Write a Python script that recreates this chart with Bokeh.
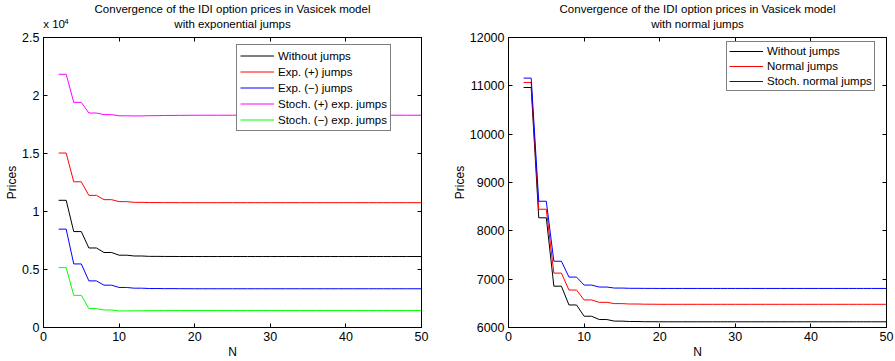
from bokeh.plotting import figure
from bokeh.models import Range1d, FixedTicker, LinearAxis, Legend, LegendItem, Title
from bokeh.layouts import row
from bokeh.embed import file_html
from bokeh.resources import INLINE

FONT = "Liberation Sans"

# ---------------- data ----------------
N = [2, 3, 4, 5, 6, 7, 8, 9, 10, 11, 12, 13, 14, 15, 16, 17, 18, 19,
     20, 21, 22, 23, 24, 25, 26, 27, 28, 29, 30, 31, 32, 33, 34, 35,
     36, 37, 38, 39, 40, 41, 42, 43, 44, 45, 46, 47, 48, 49, 50]

without_jumps = [10965, 10965, 8270, 8270, 6855, 6855, 6466, 6466, 6233, 6233,
                 6165, 6165, 6132, 6132, 6124, 6124, 6120, 6120,
                 6118, 6118, 6118, 6118, 6118, 6118, 6118, 6118, 6118, 6118,
                 6118, 6118, 6118, 6118, 6118, 6118, 6118, 6118, 6118, 6118,
                 6118, 6118, 6118, 6118, 6118, 6118, 6118, 6118, 6118, 6118, 6118]

exp_pos_jumps = [15040, 15040, 12560, 12560, 11390, 11390, 11020, 11020, 10850, 10850,
                 10790, 10790, 10770, 10770, 10765, 10765, 10762, 10762,
                 10760, 10760, 10760, 10760, 10760, 10760, 10760, 10760, 10760, 10760,
                 10760, 10760, 10760, 10760, 10760, 10760, 10760, 10760, 10760, 10760,
                 10760, 10760, 10760, 10760, 10760, 10760, 10760, 10760, 10760, 10760, 10760]

exp_neg_jumps = [8480, 8480, 5480, 5480, 4020, 4020, 3650, 3650, 3450, 3450,
                 3390, 3390, 3360, 3360, 3350, 3350, 3345, 3345,
                 3340, 3340, 3340, 3340, 3340, 3340, 3340, 3340, 3340, 3340,
                 3340, 3340, 3340, 3340, 3340, 3340, 3340, 3340, 3340, 3340,
                 3340, 3340, 3340, 3340, 3340, 3340, 3340, 3340, 3340, 3340, 3340]

stoch_pos_exp_jumps = [21830, 21830, 19410, 19410, 18490, 18490, 18350, 18350, 18250, 18250,
                       18240, 18240, 18260, 18260, 18280, 18280, 18290, 18290,
                       18300, 18300, 18300, 18300, 18300, 18300, 18300, 18300, 18300, 18300,
                       18300, 18300, 18300, 18300, 18300, 18300, 18300, 18300, 18300, 18300,
                       18300, 18300, 18300, 18300, 18300, 18300, 18300, 18300, 18300, 18300, 18300]

stoch_neg_exp_jumps = [5160, 5160, 2770, 2770, 1630, 1630, 1510, 1510, 1430, 1430,
                       1440, 1440, 1450, 1450, 1455, 1455, 1458, 1458,
                       1460, 1460, 1460, 1460, 1460, 1460, 1460, 1460, 1460, 1460,
                       1460, 1460, 1460, 1460, 1460, 1460, 1460, 1460, 1460, 1460,
                       1460, 1460, 1460, 1460, 1460, 1460, 1460, 1460, 1460, 1460, 1460]

normal_jumps = [11070, 11070, 8447, 8447, 7125, 7125, 6775, 6775, 6570, 6570,
                6521, 6521, 6494, 6494, 6486, 6486, 6482, 6482,
                6480, 6480, 6480, 6480, 6480, 6480, 6480, 6480, 6480, 6480,
                6480, 6480, 6480, 6480, 6480, 6480, 6480, 6480, 6480, 6480,
                6480, 6480, 6480, 6480, 6480, 6480, 6480, 6480, 6480, 6480, 6480]

stoch_normal_jumps = [11160, 11160, 8612, 8612, 7371, 7371, 7043, 7043, 6878, 6878,
                      6837, 6837, 6816, 6816, 6811, 6811, 6809, 6809,
                      6808, 6808, 6808, 6808, 6808, 6808, 6808, 6808, 6808, 6808,
                      6808, 6808, 6808, 6808, 6808, 6808, 6808, 6808, 6808, 6808,
                      6808, 6808, 6808, 6808, 6808, 6808, 6808, 6808, 6808, 6808, 6808]

x_ticks = [0, 10, 20, 30, 40, 50]
left_y_ticks = [0, 5000, 10000, 15000, 20000, 25000]
left_y_labels = ["0", "0.5", "1", "1.5", "2", "2.5"]
left_exponent_base = "x 10"
left_exponent_power = "4"
right_y_ticks = [6000, 7000, 8000, 9000, 10000, 11000, 12000]

title_line1 = "Convergence of the IDI option prices in Vasicek model"
left_title_line2 = "with exponential jumps"
right_title_line2 = "with normal jumps"

left_series = [
    ("Without jumps", without_jumps, "black"),
    ("Exp. (+) jumps", exp_pos_jumps, "#ff0000"),
    ("Exp. (\u2212) jumps", exp_neg_jumps, "#0000ff"),
    ("Stoch. (+) exp. jumps", stoch_pos_exp_jumps, "#ff00ff"),
    ("Stoch. (\u2212) exp. jumps", stoch_neg_exp_jumps, "#00ff00"),
]
right_series = [
    ("Without jumps", without_jumps, "black"),
    ("Normal jumps", normal_jumps, "#ff0000"),
    ("Stoch. normal jumps", stoch_normal_jumps, "#0000ff"),
]


def style_axis(ax, show_labels=True, standoff=5, label_standoff=4):
    ax.major_tick_in = 4
    ax.major_tick_out = 0
    ax.minor_tick_line_color = None
    ax.axis_line_color = "black"
    ax.major_tick_line_color = "black"
    ax.major_label_text_font = FONT
    ax.axis_label_text_font = FONT
    ax.axis_label_text_font_size = "12px"
    ax.axis_label_text_font_style = "normal"
    ax.axis_label_text_color = "black"
    ax.axis_label_standoff = label_standoff
    if show_labels:
        ax.major_label_text_font_size = "12.5px"
        ax.major_label_text_color = "black"
        ax.major_label_standoff = standoff
    else:
        ax.major_label_text_font_size = "1px"
        ax.major_label_text_color = None
        ax.major_label_standoff = 0


def text_row_axis(labels, font_size, standoff):
    """An axis used only to place texts above the frame (no line, no ticks)."""
    ax = LinearAxis(ticker=FixedTicker(ticks=list(labels.keys())),
                    major_label_overrides=labels)
    ax.axis_line_color = None
    ax.major_tick_line_color = None
    ax.minor_tick_line_color = None
    ax.major_tick_in = 0
    ax.major_tick_out = 0
    ax.major_label_standoff = standoff
    ax.major_label_text_font = FONT
    ax.major_label_text_font_size = font_size
    ax.major_label_text_color = "black"
    return ax


def make_fig(width, border_left, border_right, y_range, y_ticks, line2_labels,
             series, legend_loc, legend_h, legend_spacing, legend_pad, y_std,
             sup_labels=None):
    p = figure(width=width, height=361, x_range=Range1d(0, 50), y_range=y_range,
               output_backend="svg", toolbar_location=None, title=None,
               min_border_left=border_left, min_border_right=border_right,
               min_border_top=37, min_border_bottom=32,
               x_axis_label="N", y_axis_label="Prices")
    p.grid.visible = False
    p.outline_line_color = "black"
    p.outline_line_width = 1
    p.background_fill_color = "white"
    p.border_fill_color = "white"

    p.xaxis.ticker = FixedTicker(ticks=x_ticks)
    p.yaxis.ticker = FixedTicker(ticks=y_ticks)
    for ax in p.xaxis:
        style_axis(ax, True, standoff=4, label_standoff=1)
    for ax in p.yaxis:
        style_axis(ax, True, standoff=y_std, label_standoff=0)

    # inward ticks on the top and right edges (no labels)
    top = LinearAxis(ticker=FixedTicker(ticks=x_ticks))
    style_axis(top, False)
    p.add_layout(top, "above")
    right = LinearAxis(ticker=FixedTicker(ticks=y_ticks))
    style_axis(right, False)
    p.add_layout(right, "right")

    # second title line (and exponent base) sharing one text row above the frame
    p.add_layout(text_row_axis(line2_labels, "11.5px", 8), "above")
    if sup_labels:
        # superscript, pulled down next to the exponent base
        p.add_layout(text_row_axis(sup_labels, "8px", -9), "above")

    p.add_layout(Title(text=title_line1, align="center", text_font=FONT,
                       text_font_size="11.5px", text_font_style="normal",
                       text_color="black", standoff=0), "above")

    items = []
    for name, ys, color in series:
        r = p.line(N, ys, line_color=color, line_width=1)
        items.append(LegendItem(label=name, renderers=[r]))
    leg = Legend(items=items, location=legend_loc, margin=0, padding=legend_pad,
                 spacing=legend_spacing, glyph_width=34, glyph_height=legend_h,
                 label_height=legend_h, label_standoff=4,
                 label_text_font=FONT, label_text_font_size="11.5px",
                 label_text_color="black",
                 border_line_color="black", border_line_width=1,
                 background_fill_color="white", background_fill_alpha=1.0)
    p.add_layout(leg, "center")
    return p


left = make_fig(445, 43, 24, Range1d(0, 25000), left_y_ticks,
                {1.4: left_exponent_base, 25: left_title_line2},
                left_series, (193, 196), 15, 1, 3, 4,
                sup_labels={3.05: left_exponent_power})
left.yaxis[0].major_label_overrides = {t: s for t, s in zip(left_y_ticks, left_y_labels)}

right_fig = make_fig(450, 63, 9, Range1d(6000, 12000), right_y_ticks,
                     {25: right_title_line2},
                     right_series, (218, 236), 14, 1, 2, 4)

layout = row(left, right_fig)
open("out.html", "w").write(file_html(layout, INLINE))
